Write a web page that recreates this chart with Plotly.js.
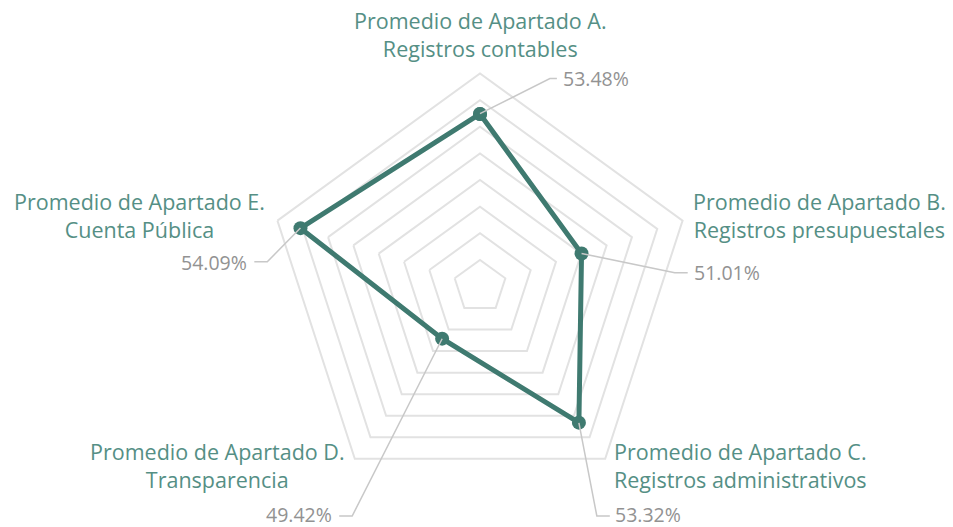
<!DOCTYPE html>
<html>
<head>
<meta charset="utf-8">
<script src="https://cdn.plot.ly/plotly-3.0.1.min.js"></script>
<style>html,body{margin:0;padding:0;background:#fff;}#chart{width:953px;height:527px;}</style>
</head>
<body>
<div id="chart"></div>
<script>
// ---- data ----
const categories = [
  "Promedio de Apartado A.<br>Registros contables",
  "Promedio de Apartado B.<br>Registros presupuestales",
  "Promedio de Apartado C.<br>Registros administrativos",
  "Promedio de Apartado D.<br>Transparencia",
  "Promedio de Apartado E.<br>Cuenta Pública"
];
const values = [53.48, 51.01, 53.32, 49.42, 54.09];
const valueLabels = ["53.48%", "51.01%", "53.32%", "49.42%", "54.09%"];
const radialRange = [47, 55];
const radialStep = 1;

// ---- geometry / style ----
const W = 953, H = 527;
const cx = 480, cy = 286.7, R = 213.3;
const mL = cx - R, mR = W - cx - R, mT = cy - R, mB = H - cy - R;
const teal = "#3f7a70";
const labelTeal = "#558f85";
const gray = "#929292";
const gridGray = "#e2e2e2";
const leaderGray = "#c8c8c8";

function px2x(px) { return (px - mL) / (2 * R); }
function px2y(py) { return (cy + R - py) / (2 * R); }
function pointPx(v, i) {
  const rad = (v - radialRange[0]) / (radialRange[1] - radialRange[0]) * R;
  const ang = i * 2 * Math.PI / categories.length;
  return [cx + rad * Math.sin(ang), cy - rad * Math.cos(ang)];
}

// label placement (layout)
const catPos = [
  {x: 480, y: 35, a: "center"},
  {x: 820, y: 216, a: "center"},
  {x: 741, y: 466, a: "center"},
  {x: 217.5, y: 466, a: "center"},
  {x: 139, y: 216, a: "center"}
];
const valPos = [
  {elbow: [550, 79], stub: [557, 79], tx: 562, ty: 79, a: "left"},
  {elbow: [675, 273], stub: [688, 273], tx: 693, ty: 273, a: "left"},
  {elbow: [597, 516], stub: [610, 516], tx: 614, ty: 514, a: "left"},
  {elbow: [352, 516], stub: [339, 516], tx: 333, ty: 514, a: "right"},
  {elbow: [267, 262], stub: [254, 262], tx: 248, ty: 263, a: "right"}
];

const trace = {
  type: "scatterpolar",
  r: values.concat([values[0]]),
  theta: categories.concat([categories[0]]),
  mode: "lines+markers",
  line: {color: teal, width: 5},
  marker: {color: teal, size: 14},
  hoverinfo: "skip",
  showlegend: false
};

const annotations = [];
const shapes = [];
categories.forEach((c, i) => {
  annotations.push({
    xref: "paper", yref: "paper",
    x: px2x(catPos[i].x), y: px2y(catPos[i].y),
    xanchor: catPos[i].a, yanchor: "middle",
    text: c, showarrow: false, align: "center",
    font: {family: "Open Sans", size: 21.5, color: labelTeal}
  });
  const p = pointPx(values[i], i);
  const vp = valPos[i];
  shapes.push({
    type: "path", xref: "paper", yref: "paper",
    path: "M " + px2x(p[0]) + " " + px2y(p[1]) +
          " L " + px2x(vp.elbow[0]) + " " + px2y(vp.elbow[1]) +
          " L " + px2x(vp.stub[0]) + " " + px2y(vp.stub[1]),
    line: {color: leaderGray, width: 1.5},
    layer: "above"
  });
  annotations.push({
    xref: "paper", yref: "paper",
    x: px2x(vp.tx), y: px2y(vp.ty),
    xanchor: vp.a, yanchor: "middle",
    text: valueLabels[i], showarrow: false, borderpad: 0,
    font: {family: "Open Sans", size: 19.5, color: gray}
  });
});

const layout = {
  width: W, height: H,
  margin: {l: mL, r: mR, t: mT, b: mB, pad: 0},
  paper_bgcolor: "#ffffff",
  showlegend: false,
  polar: {
    bgcolor: "#ffffff",
    gridshape: "linear",
    domain: {x: [0, 1], y: [0, 1]},
    angularaxis: {
      direction: "clockwise",
      rotation: 90,
      showticklabels: false,
      ticks: "",
      showgrid: false,
      showline: true,
      linecolor: gridGray,
      linewidth: 2
    },
    radialaxis: {
      range: radialRange,
      tick0: radialRange[0],
      dtick: radialStep,
      showticklabels: false,
      ticks: "",
      showline: false,
      gridcolor: gridGray,
      gridwidth: 2
    }
  },
  annotations: annotations,
  shapes: shapes
};

Plotly.newPlot("chart", [trace], layout, {displayModeBar: false, staticPlot: true});
</script>
</body>
</html>
